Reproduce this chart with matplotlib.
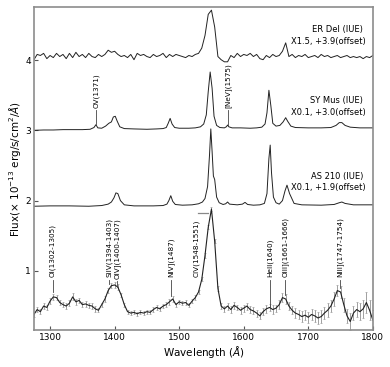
import numpy as np
import matplotlib
matplotlib.use("Agg")
import matplotlib.pyplot as plt

# ---------------- data ----------------
# common 5 A grid for ER Del and the bottom (error-bar) spectrum
wave_grid = np.arange(1275, 1801, 5)

# ER Del (IUE) raw flux, plotted as x1.5 + 3.9
flux_erdel = [
    0.07, 0.12, 0.11, 0.13, 0.08, 0.11, 0.09, 0.13, 0.10, 0.12,
    0.08, 0.13, 0.09, 0.14, 0.10, 0.12, 0.09, 0.13, 0.10, 0.09,
    0.12, 0.10, 0.12, 0.16, 0.14, 0.15, 0.12, 0.10, 0.11, 0.09,
    0.12, 0.07, 0.13, 0.11, 0.12, 0.10, 0.09, 0.12, 0.10, 0.11,
    0.13, 0.09, 0.12, 0.10, 0.12, 0.11, 0.10, 0.09, 0.11, 0.10,
    0.12, 0.13, 0.18, 0.30, 0.50, 0.54, 0.38, 0.10, 0.07, 0.05,
    0.05, 0.11, 0.09, 0.13, 0.10, 0.12, 0.11, 0.13, 0.10, 0.12,
    0.08, 0.07, 0.11, 0.09, 0.12, 0.10, 0.11, 0.15, 0.23, 0.10,
    0.12, 0.09, 0.11, 0.10, 0.12, 0.09, 0.10, 0.11, 0.09, 0.12,
    0.10, 0.11, 0.09, 0.10, 0.11, 0.09, 0.10, 0.11, 0.09, 0.10,
    0.09, 0.10, 0.08, 0.10, 0.09, 0.11,
]
scale_erdel, offset_erdel = 1.5, 3.9

# SY Mus (IUE) raw flux, plotted as x0.1 + 3.0
wave_symus = [1275, 1290, 1305, 1320, 1335, 1350, 1362, 1368, 1371, 1374,
              1380, 1386, 1391, 1395, 1398, 1401, 1404, 1408, 1415, 1430,
              1450, 1465, 1475, 1480, 1483, 1486, 1489, 1493, 1500, 1515,
              1525, 1533, 1538, 1542, 1545, 1548, 1551, 1554, 1558, 1563,
              1570, 1573, 1575, 1577, 1582, 1595, 1610, 1620, 1628, 1633,
              1636, 1639, 1642, 1645, 1650, 1656, 1661, 1665, 1668, 1673,
              1680, 1700, 1720, 1735, 1743, 1748, 1752, 1757, 1765, 1780,
              1800]
flux_symus = [0.0, 0.05, 0.05, 0.1, 0.1, 0.1, 0.15, 0.4, 0.8, 0.35,
              0.3, 0.6, 1.0, 1.2, 1.9, 2.0, 1.3, 0.5, 0.25, 0.2,
              0.15, 0.2, 0.25, 0.4, 1.0, 1.7, 0.9, 0.4, 0.3, 0.3,
              0.35, 0.5, 0.9, 2.2, 5.5, 8.3, 6.0, 2.0, 0.7, 0.4,
              0.35, 0.5, 0.75, 0.5, 0.35, 0.35, 0.3, 0.35, 0.45, 0.9,
              2.5, 5.7, 3.5, 1.0, 0.6, 0.7, 1.2, 1.8, 1.3, 0.6,
              0.4, 0.35, 0.35, 0.4, 0.7, 1.1, 1.1, 0.7, 0.45, 0.35,
              0.35]
scale_symus, offset_symus = 0.1, 3.0

# AS 210 (IUE) raw flux, plotted as x0.1 + 1.9
wave_as210 = [1275, 1300, 1330, 1360, 1380, 1390, 1395, 1399, 1402, 1405,
              1409, 1415, 1430, 1460, 1475, 1481, 1484, 1487, 1490, 1494,
              1505, 1520, 1530, 1536, 1540, 1544, 1547, 1549, 1551, 1553,
              1555, 1558, 1562, 1568, 1572, 1575, 1578, 1590, 1598, 1602,
              1606, 1615, 1625, 1632, 1636, 1639, 1641, 1643, 1646, 1650,
              1655, 1660, 1664, 1667, 1671, 1678, 1690, 1720, 1740, 1748,
              1752, 1757, 1770, 1800]
flux_as210 = [0.2, 0.25, 0.25, 0.2, 0.3, 0.5, 0.8, 1.4, 2.1, 2.0,
              1.0, 0.4, 0.25, 0.25, 0.3, 0.5, 1.0, 1.7, 0.9, 0.45,
              0.35, 0.4, 0.55, 0.8, 1.3, 3.0, 7.5, 11.2, 8.0, 4.5,
              4.0, 1.5, 0.7, 0.45, 0.55, 0.8, 0.5, 0.4, 0.5, 0.75,
              0.45, 0.35, 0.4, 0.6, 2.0, 7.0, 8.9, 5.0, 1.5, 0.7,
              0.5, 1.0, 2.4, 3.2, 2.0, 0.6, 0.4, 0.35, 0.45, 0.7,
              0.8, 0.6, 0.4, 0.4]
scale_as210, offset_as210 = 0.1, 1.9

# bottom spectrum with error bars (no offset)
flux_main = [
    0.38, 0.45, 0.42, 0.50, 0.48, 0.57, 0.63, 0.62, 0.55, 0.52,
    0.50, 0.54, 0.63, 0.56, 0.58, 0.52, 0.53, 0.51, 0.50, 0.46,
    0.44, 0.52, 0.60, 0.72, 0.79, 0.80, 0.77, 0.66, 0.52, 0.42,
    0.40, 0.41, 0.39, 0.41, 0.40, 0.42, 0.41, 0.45, 0.48, 0.46,
    0.50, 0.52, 0.56, 0.60, 0.52, 0.56, 0.54, 0.55, 0.51, 0.57,
    0.62, 0.70, 0.88, 1.22, 1.62, 1.88, 1.42, 0.75, 0.50, 0.46,
    0.50, 0.45, 0.51, 0.48, 0.44, 0.47, 0.50, 0.45, 0.43, 0.40,
    0.36, 0.42, 0.46, 0.48, 0.45, 0.47, 0.52, 0.62, 0.60, 0.50,
    0.44, 0.40, 0.38, 0.35, 0.37, 0.34, 0.38, 0.36, 0.33, 0.35,
    0.40, 0.44, 0.50, 0.60, 0.72, 0.70, 0.52, 0.36, 0.28, 0.40,
    0.45, 0.42, 0.46, 0.55, 0.44, 0.30,
]
err_main = [
    0.04, 0.04, 0.04, 0.04, 0.04, 0.04, 0.04, 0.04, 0.04, 0.04,
    0.04, 0.04, 0.05, 0.04, 0.04, 0.04, 0.04, 0.04, 0.04, 0.04,
    0.03, 0.03, 0.04, 0.04, 0.04, 0.04, 0.04, 0.03, 0.03, 0.03,
    0.03, 0.03, 0.03, 0.03, 0.03, 0.03, 0.03, 0.03, 0.03, 0.03,
    0.03, 0.04, 0.04, 0.04, 0.03, 0.03, 0.03, 0.03, 0.03, 0.03,
    0.03, 0.03, 0.03, 0.03, 0.03, 0.03, 0.03, 0.03, 0.04, 0.04,
    0.05, 0.05, 0.05, 0.04, 0.05, 0.05, 0.05, 0.05, 0.05, 0.05,
    0.05, 0.05, 0.06, 0.05, 0.06, 0.05, 0.06, 0.06, 0.07, 0.06,
    0.06, 0.07, 0.07, 0.08, 0.07, 0.08, 0.08, 0.09, 0.08, 0.09,
    0.09, 0.10, 0.09, 0.10, 0.08, 0.09, 0.10, 0.10, 0.12, 0.10,
    0.11, 0.12, 0.13, 0.15, 0.14, 0.15,
]

# line identifications on the bottom spectrum: (label, wavelength, line top, line bottom)
line_labels = ["OI(1302-1305)", "SiIV(1394-1403)", "OIV](1400-1407)", "NIV](1487)",
               "HeII(1640)", "OIII](1661-1666)", "NIII](1747-1754)"]
line_waves = [1304, 1391, 1404, 1487, 1641, 1664, 1749]
line_tops = [0.87, 0.87, 0.85, 0.87, 0.87, 0.87, 0.87]
line_bottoms = [0.70, 0.81, 0.77, 0.64, 0.48, 0.66, 0.76]

# ---------------- plot ----------------
fig = plt.figure(figsize=(3.9, 3.67), dpi=100)
ax = fig.add_axes([0.087, 0.101, 0.869, 0.879])

lc = "#222222"
ax.plot(wave_grid, np.array(flux_erdel) * scale_erdel + offset_erdel, color=lc, lw=0.7)
ax.plot(wave_symus, np.array(flux_symus) * scale_symus + offset_symus, color=lc, lw=0.7)
ax.plot(wave_as210, np.array(flux_as210) * scale_as210 + offset_as210, color=lc, lw=0.7)

ax.errorbar(wave_grid, flux_main, yerr=err_main, fmt="none", ecolor="#a0a0a0",
            elinewidth=0.7, capsize=1.0, capthick=0.5, zorder=1)
ax.plot(wave_grid, flux_main, color=lc, lw=0.8, zorder=2)

# top labels
fs_lab = 5.2
lcol = "#444444"
ax.plot([1371, 1371], [3.09, 3.29], color=lcol, lw=0.6)
ax.text(1371, 3.32, "OV(1371)", rotation=90, ha="center", va="bottom", fontsize=fs_lab)
ax.plot([1575, 1575], [3.08, 3.29], color=lcol, lw=0.6)
ax.text(1575, 3.32, "[NeV](1575)", rotation=90, ha="center", va="bottom", fontsize=fs_lab)

for lab, w, t, b in zip(line_labels, line_waves, line_tops, line_bottoms):
    ax.plot([w, w], [b, t], color=lcol, lw=0.6)
    ax.text(w, t + 0.04, lab, rotation=90, ha="center", va="bottom", fontsize=fs_lab)

ax.text(1527, 0.91, "CIV(1548-1551)", rotation=90, ha="center", va="bottom", fontsize=fs_lab)
ax.plot([1529, 1544], [1.83, 1.83], color="#888888", lw=0.9)

# spectrum names
fs_name = 6.0
ax.text(1785, 4.43, "ER Del (IUE)", ha="right", va="center", fontsize=fs_name)
ax.text(1789, 4.26, "X1.5, +3.9(offset)", ha="right", va="center", fontsize=fs_name)
ax.text(1785, 3.43, "SY Mus (IUE)", ha="right", va="center", fontsize=fs_name)
ax.text(1789, 3.25, "X0.1, +3.0(offset)", ha="right", va="center", fontsize=fs_name)
ax.text(1785, 2.34, "AS 210 (IUE)", ha="right", va="center", fontsize=fs_name)
ax.text(1789, 2.18, "X0.1, +1.9(offset)", ha="right", va="center", fontsize=fs_name)

ax.set_xlim(1275, 1800)
ax.set_ylim(0.16, 4.75)
ax.set_xticks([1300, 1400, 1500, 1600, 1700, 1800])
ax.set_yticks([1, 2, 3, 4])
ax.tick_params(direction="in", length=3, width=0.8, labelsize=6.5, pad=2, color="#555555")
for s in ax.spines.values():
    s.set_color("#8c8c8c")
    s.set_linewidth(1.2)

ax.set_xlabel(r"Wavelength ($\AA$)", fontsize=7.5, labelpad=2)
ax.set_ylabel(r"Flux($\times$ 10$^{-13}$ erg/s/cm$^2$/$\AA$)", fontsize=7.5, labelpad=2)

fig.savefig("out.png", dpi=100)
